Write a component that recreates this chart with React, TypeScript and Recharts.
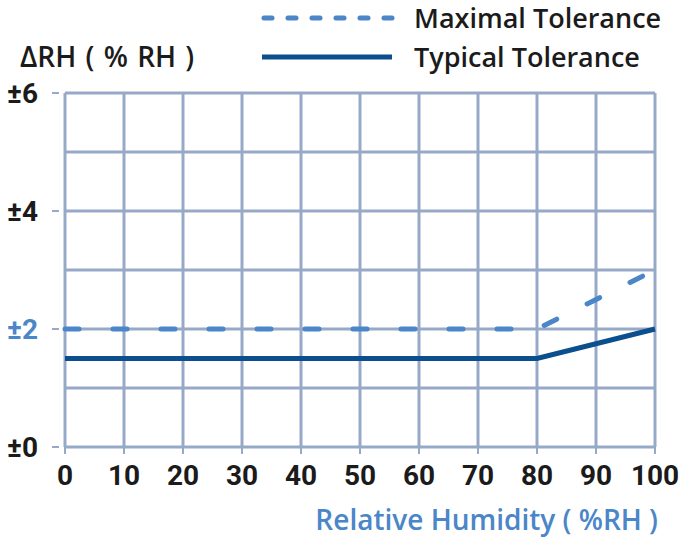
import { CartesianGrid, Legend, Line, LineChart, XAxis, YAxis } from "recharts";

const humidity = [0, 80, 100];
const typicalTol = [1.5, 1.5, 2];
const maximalTol = [2, 2, 3];
const xTicks = [0, 10, 20, 30, 40, 50, 60, 70, 80, 90, 100];
const yTicks = [0, 1, 2, 3, 4, 5, 6];
const yLabelled = [0, 2, 4, 6];

const data = humidity.map((h, i) => ({ rh: h, typical: typicalTol[i], maximal: maximalTol[i] }));

const FONT = "'Open Sans', sans-serif";
const NUM_FONT = "Roboto, sans-serif";
const GRID = "#97a9c8";
const DARK = "#0b4f8d";
const LIGHT = "#4a86c8";
const INK = "#1b1b1b";

function YTick(props: any) {
  const { x, y, payload } = props;
  if (!yLabelled.includes(payload.value)) return null;
  return (
    <g>
      <line x1={x - 5} x2={x + 2} y1={y} y2={y} stroke={GRID} strokeWidth={2} />
      <text
        x={x - 19}
        y={y}
        dy={10}
        textAnchor="end"
        fontSize={28}
        fontWeight={700}
        fontFamily={NUM_FONT}
        fill={payload.value === 2 ? LIGHT : INK}
      >
        {"±" + payload.value}
      </text>
    </g>
  );
}

function XTick(props: any) {
  const { x, y, payload } = props;
  return (
    <g>
      <line x1={x} x2={x} y1={y - 8} y2={y - 1} stroke={GRID} strokeWidth={2} />
      <text
        x={x}
        y={y + 30}
        textAnchor="middle"
        fontSize={28}
        fontWeight={700}
        fontFamily={NUM_FONT}
        fill={INK}
      >
        {payload.value}
      </text>
    </g>
  );
}

function TopLegend() {
  return (
    <svg width={679} height={80} style={{ position: "absolute", left: 0, top: 0 }}>
      <line x1={264} x2={392} y1={18} y2={18} stroke={LIGHT} strokeWidth={5} strokeDasharray="8 16" strokeLinecap="round" />
      <line x1={262} x2={392} y1={57} y2={57} stroke={DARK} strokeWidth={5} />
      <text x={414} y={28} fontSize={27} fontWeight={600} fontFamily={FONT} fill={INK}>
        Maximal Tolerance
      </text>
      <text x={414} y={67} fontSize={27} fontWeight={600} fontFamily={FONT} fill={INK}>
        Typical Tolerance
      </text>
      <text x={20} y={67} fontSize={28} fontWeight={600} fontFamily={FONT} fill={INK} wordSpacing={2}>
        ΔRH ( % RH )
      </text>
    </svg>
  );
}

export default function App() {
  return (
    <div style={{ position: "absolute", left: 0, top: 0, width: 679, height: 540, background: "#fff" }}>
      <LineChart width={679} height={540} data={data} margin={{ top: 93, right: 24, left: 0, bottom: 0 }}>
        <CartesianGrid stroke={GRID} strokeWidth={3} verticalValues={xTicks} horizontalValues={yTicks} />
        <XAxis
          dataKey="rh"
          type="number"
          domain={[0, 100]}
          ticks={xTicks}
          axisLine={false}
          tickLine={false}
          tick={<XTick />}
          height={93}
          label={{
            value: "Relative Humidity ( %RH )",
            position: "insideBottomRight",
            offset: 10,
            dx: 13,
            fill: LIGHT,
            fontSize: 28,
            fontWeight: 600,
            fontFamily: FONT,
          }}
        />
        <YAxis
          type="number"
          domain={[0, 6]}
          ticks={yTicks}
          interval={0}
          axisLine={false}
          tickLine={false}
          tick={<YTick />}
          width={65}
        />
        <Legend content={() => null} />
        <Line
          type="linear"
          dataKey="maximal"
          stroke={LIGHT}
          strokeWidth={5}
          strokeDasharray="14 34"
          strokeLinecap="round"
          dot={false}
          isAnimationActive={false}
        />
        <Line
          type="linear"
          dataKey="typical"
          stroke={DARK}
          strokeWidth={5}
          dot={false}
          isAnimationActive={false}
        />
      </LineChart>
      <TopLegend />
    </div>
  );
}
